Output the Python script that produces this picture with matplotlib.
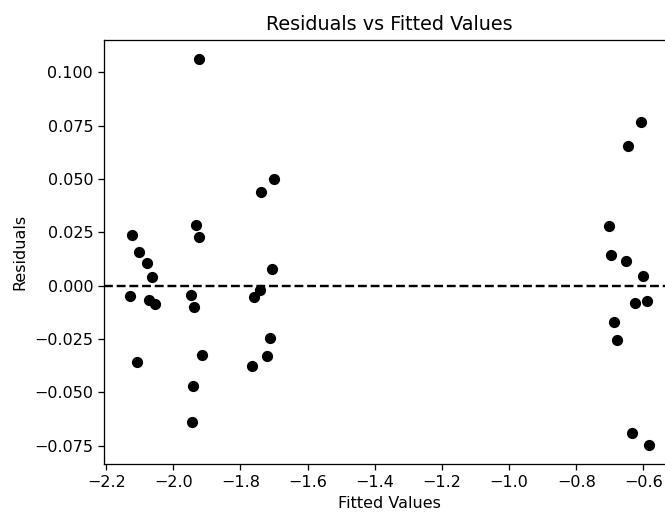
import numpy as np
import matplotlib
matplotlib.use("Agg")
import matplotlib.pyplot as plt

# fitted values and residuals
fitted = [-2.122, -2.102, -2.079, -2.062, -2.128, -2.072, -2.054, -2.108,
          -1.924, -1.931, -1.924, -1.948, -1.937, -1.916, -1.940, -1.944,
          -1.699, -1.739, -1.705, -1.743, -1.759, -1.713, -1.722, -1.767,
          -0.608, -0.645, -0.704, -0.698, -0.652, -0.601, -0.625, -0.590,
          -0.688, -0.680, -0.633, -0.584]
resid = [0.0239, 0.0158, 0.0107, 0.0041, -0.0047, -0.0066, -0.0085, -0.0358,
         0.1064, 0.0283, 0.0229, -0.0046, -0.0100, -0.0325, -0.0471, -0.0638,
         0.0498, 0.0440, 0.0080, -0.0019, -0.0052, -0.0244, -0.0330, -0.0379,
         0.0767, 0.0654, 0.0278, 0.0142, 0.0116, 0.0047, -0.0083, -0.0072,
         -0.0169, -0.0255, -0.0692, -0.0745]

DPI = 115
fig = plt.figure(figsize=(665 / DPI, 513 / DPI), dpi=DPI)
ax = fig.add_axes([0.157, 0.0959, 0.8577, 0.8271])

ax.scatter(fitted, resid, color='black')
ax.axhline(0, color='black', linestyle='--')

ax.set_title('Residuals vs Fitted Values')
ax.set_xlabel('Fitted Values')
ax.set_ylabel('Residuals')

fig.savefig('out.png', dpi=DPI)
